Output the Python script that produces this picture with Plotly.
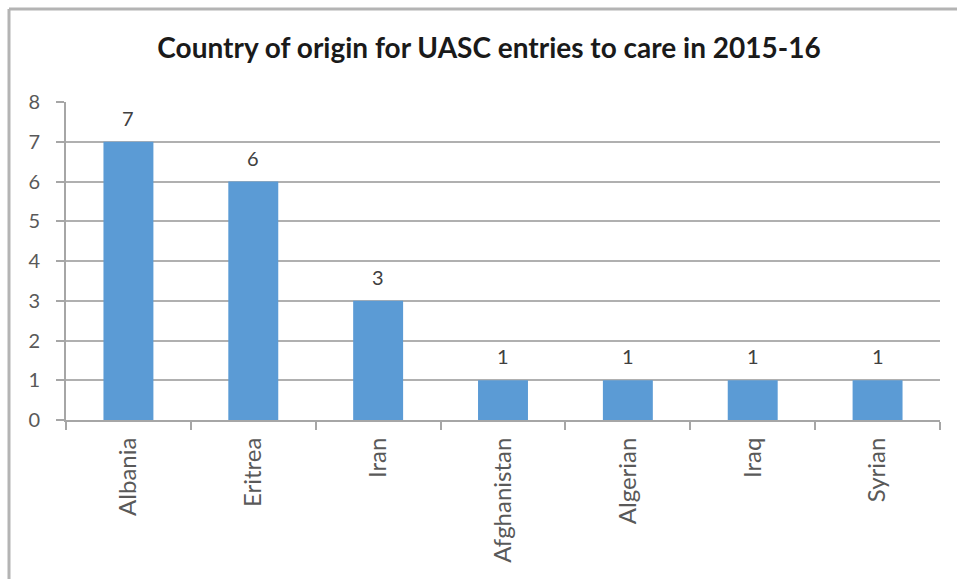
import plotly.graph_objects as go

# UASC entries to care, 2015-16, by country of origin
countries = ["Albania", "Eritrea", "Iran", "Afghanistan", "Algerian", "Iraq", "Syrian"]
entries = [7, 6, 3, 1, 1, 1, 1]
y_ticks = [0, 1, 2, 3, 4, 5, 6, 7, 8]

W, H = 957, 579
M_L, M_R, M_T, M_B = 66, 17, 102, 159
plot_w = W - M_L - M_R
plot_h = H - M_T - M_B

FONT = "Lato, Carlito, 'Liberation Sans', sans-serif"

fig = go.Figure(
    go.Bar(
        x=countries,
        y=entries,
        marker=dict(color="#5b9bd5", line=dict(width=0)),
        hoverinfo="x+y",
    )
)

# value labels above each bar
for c, v in zip(countries, entries):
    fig.add_annotation(
        x=c, y=v, text=str(v), showarrow=False,
        yanchor="bottom", yshift=10,
        font=dict(family=FONT, size=20, color="#404040"),
    )

# chart frame: thin grey rules along the top and left edges
left_px, top_px = 9, 9
fx = (left_px - M_L) / plot_w
fy = 1 + (M_T - top_px) / plot_h
fig.add_shape(type="line", xref="paper", yref="paper",
              x0=fx, x1=1 + M_R / plot_w, y0=fy, y1=fy,
              line=dict(color="#b4b4b4", width=3))
fig.add_shape(type="line", xref="paper", yref="paper",
              x0=fx, x1=fx, y0=fy, y1=-M_B / plot_h,
              line=dict(color="#b4b4b4", width=3))

fig.update_layout(
    width=W, height=H,
    margin=dict(l=M_L, r=M_R, t=M_T, b=M_B, pad=0),
    paper_bgcolor="white",
    plot_bgcolor="white",
    bargap=0.6,
    showlegend=False,
    title=dict(
        text="<b>Country of origin for UASC entries to care in 2015-16</b>",
        x=489 / W, xanchor="center",
        y=1 - 48 / H, yanchor="middle",
        font=dict(family=FONT, size=28, color="#1a1a1a"),
    ),
    font=dict(family=FONT, size=20, color="#595959"),
)

fig.update_xaxes(
    type="category",
    tickangle=-90,
    tickson="boundaries",
    ticks="outside",
    ticklen=8,
    tickwidth=2,
    tickcolor="#a6a6a6",
    showline=True,
    linecolor="#a6a6a6",
    linewidth=2,
    showgrid=False,
    ticklabelstandoff=6,
    tickfont=dict(family=FONT, size=24, color="#595959"),
)

fig.update_yaxes(
    range=[0, 8],
    tickmode="array",
    tickvals=y_ticks,
    ticktext=[str(v) for v in y_ticks],
    ticks="outside",
    ticklen=8,
    tickwidth=2,
    tickcolor="#a6a6a6",
    showline=True,
    linecolor="#a6a6a6",
    linewidth=2,
    showgrid=True,
    gridcolor="#b0b0b0",
    gridwidth=2,
    zeroline=False,
    ticklabelstandoff=12,
    tickfont=dict(family=FONT, size=20, color="#595959"),
)

fig.write_html("out.html")
